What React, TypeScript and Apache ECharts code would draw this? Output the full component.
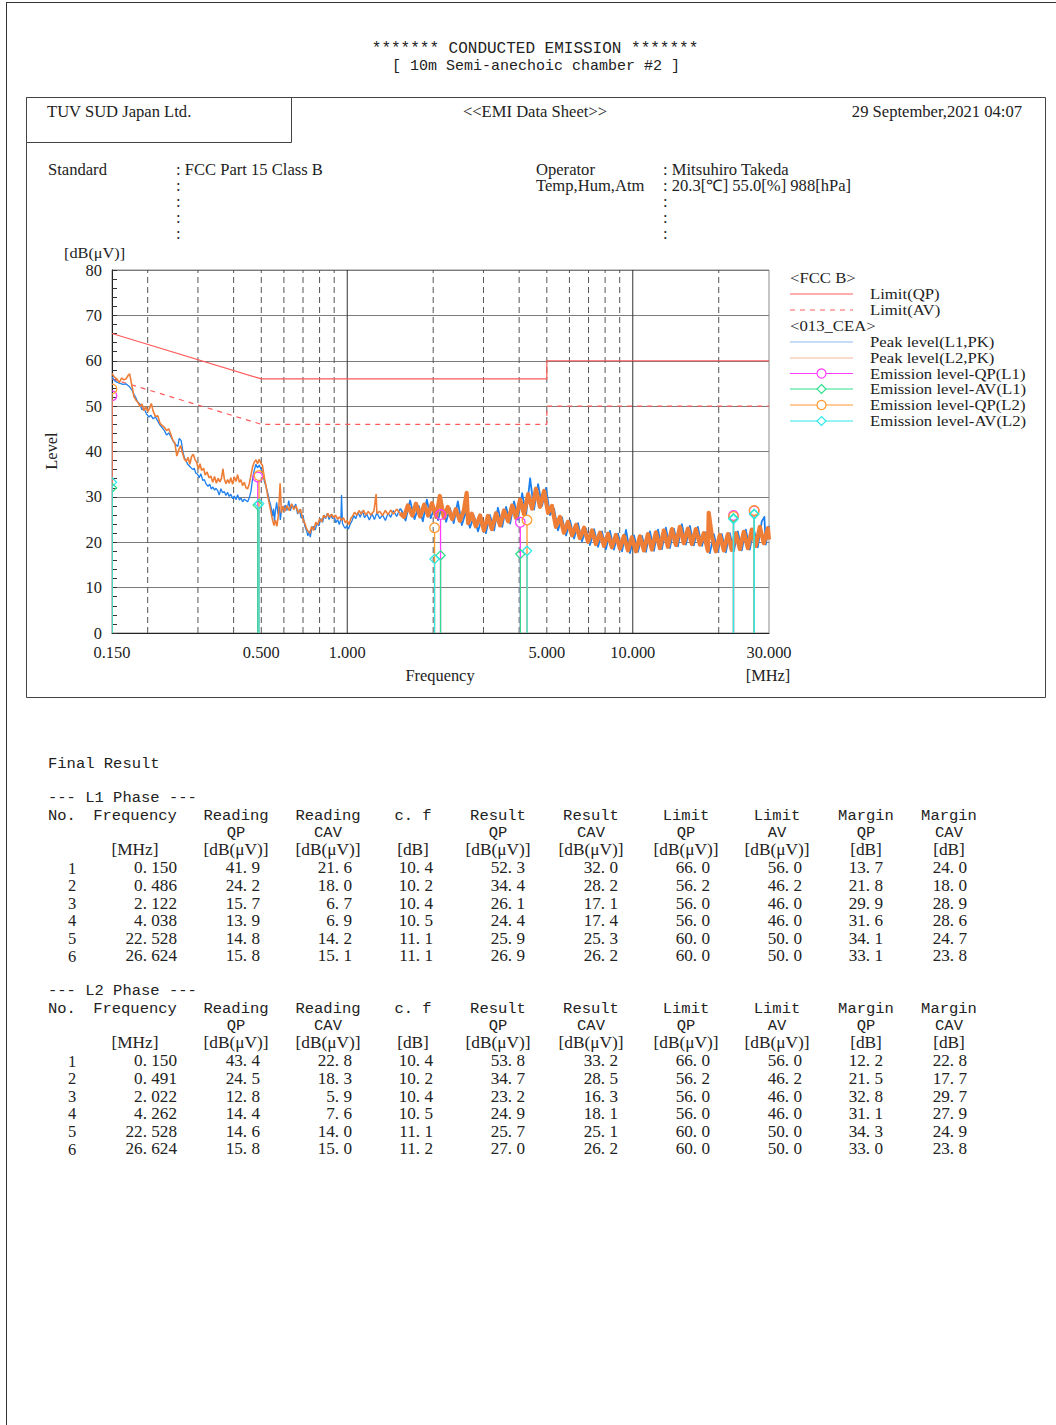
import React, { useEffect, useRef } from "react";
import * as echarts from "echarts";

// ---- axis layout values ----
const X_LABELS = [0.15, 0.5, 1, 5, 10, 30];
const X_DASHED = [0.2, 0.3, 0.4, 0.5, 0.6, 0.7, 0.8, 0.9, 2, 3, 4, 5, 6, 7, 8, 9, 20];
const X_SOLID = [1, 10];

// ---- FCC Part 15 Class B limits [MHz, dBuV] ----
const LIMIT_QP = [[0.15, 66], [0.5, 56], [5, 56], [5, 60], [30, 60]];
const LIMIT_AV = [[0.15, 56], [0.5, 46], [5, 46], [5, 50], [30, 50]];

// sweep is drawn heavier above this frequency, where the trace turns into a dense noise band
const BAND_START = 1.53;

// ---- peak sweep, L1 [MHz, dBuV] ----
const PEAK_L1 = [
  [0.150, 56.5], [0.153, 55.6], [0.156, 55.3], [0.160, 55.0], [0.164, 54.8], [0.168, 54.9], [0.172, 54.4],
  [0.176, 53.6], [0.179, 52.6], [0.182, 51.8], [0.184, 51.0], [0.188, 50.4], [0.191, 49.2], [0.194, 49.6],
  [0.198, 48.3], [0.202, 47.6], [0.205, 48.0], [0.209, 47.2], [0.213, 47.6], [0.217, 46.7], [0.221, 45.8],
  [0.225, 45.2], [0.229, 44.6], [0.233, 43.6], [0.237, 44.1], [0.241, 43.3], [0.246, 42.2], [0.250, 41.6],
  [0.255, 41.1], [0.258, 42.9], [0.262, 42.4], [0.266, 39.8], [0.269, 38.6], [0.273, 37.9], [0.276, 37.2],
  [0.280, 36.8], [0.284, 36.4], [0.288, 36.0], [0.291, 36.3], [0.295, 35.2], [0.299, 35.0], [0.303, 34.2],
  [0.307, 35.1], [0.312, 33.6], [0.316, 33.8], [0.320, 32.9], [0.325, 32.3], [0.330, 32.8], [0.334, 31.7],
  [0.338, 32.2], [0.343, 31.5], [0.347, 31.9], [0.352, 31.3], [0.356, 30.4], [0.361, 31.8], [0.366, 30.9],
  [0.371, 31.2], [0.376, 30.3], [0.381, 31.0], [0.386, 30.1], [0.391, 30.6], [0.397, 29.6], [0.402, 30.2],
  [0.408, 29.4], [0.413, 30.5], [0.419, 29.3], [0.424, 29.8], [0.430, 28.9], [0.436, 29.5], [0.442, 29.2],
  [0.448, 28.9], [0.454, 29.8], [0.460, 31.2], [0.466, 34.0], [0.472, 35.8], [0.479, 37.2], [0.485, 36.4],
  [0.492, 37.0], [0.498, 36.2], [0.505, 35.6], [0.512, 33.5], [0.519, 32.4], [0.526, 31.0], [0.533, 29.4],
  [0.540, 28.0], [0.548, 25.8], [0.552, 27.4], [0.556, 24.6], [0.560, 26.8], [0.566, 28.8], [0.572, 26.2],
  [0.578, 27.9], [0.583, 24.9], [0.590, 27.8], [0.598, 26.8], [0.606, 28.2], [0.615, 27.0], [0.624, 29.2],
  [0.632, 26.9], [0.641, 28.3], [0.650, 27.5], [0.660, 28.4], [0.670, 26.2], [0.680, 27.2], [0.690, 25.3],
  [0.700, 26.0], [0.710, 23.6], [0.720, 22.6], [0.728, 21.4], [0.736, 22.5], [0.742, 21.1], [0.750, 22.8],
  [0.760, 23.5], [0.772, 22.7], [0.784, 24.2], [0.796, 23.6], [0.808, 25.2], [0.820, 24.4], [0.830, 26.0],
  [0.840, 25.2], [0.852, 26.4], [0.864, 25.0], [0.876, 26.1], [0.888, 25.2], [0.900, 25.8], [0.912, 24.3],
  [0.925, 25.0], [0.938, 23.9], [0.950, 25.1], [0.955, 30.4], [0.962, 24.2], [0.975, 23.4], [0.985, 23.1],
  [0.996, 23.6], [1.010, 22.9], [1.023, 23.9], [1.040, 24.8], [1.055, 25.9], [1.070, 25.2], [1.090, 26.6],
  [1.110, 25.5], [1.130, 26.9], [1.150, 25.4], [1.170, 26.2], [1.195, 24.9], [1.220, 26.3], [1.245, 25.0],
  [1.270, 26.5], [1.300, 25.2], [1.330, 26.0], [1.360, 24.8], [1.390, 26.4], [1.420, 25.5], [1.450, 27.0],
  [1.490, 25.7], [1.530, 27.4],
  [1.55, 27.0], [1.60, 24.8], [1.66, 29.2], [1.72, 25.1], [1.78, 28.0], [1.84, 24.6], [1.90, 29.4],
  [1.96, 25.3], [2.02, 27.6], [2.08, 24.9], [2.15, 28.2], [2.22, 24.5], [2.29, 27.5], [2.36, 24.2],
  [2.44, 29.0], [2.52, 23.8], [2.60, 26.6], [2.69, 23.2], [2.78, 25.8], [2.87, 22.4], [2.96, 25.2],
  [3.06, 22.0], [3.16, 26.0], [3.27, 22.6], [3.37, 27.6], [3.49, 23.4], [3.60, 27.8], [3.72, 24.1],
  [3.84, 29.0], [3.96, 25.0], [4.10, 30.8], [4.23, 26.0], [4.37, 34.1], [4.51, 27.2], [4.66, 32.8],
  [4.81, 28.0], [4.97, 32.0], [5.13, 26.0], [5.30, 27.4], [5.47, 22.6], [5.65, 25.5], [5.84, 21.5],
  [6.03, 24.8], [6.23, 20.8], [6.43, 24.2], [6.64, 20.2], [6.86, 23.0], [7.08, 19.4], [7.32, 22.9],
  [7.56, 19.0], [7.80, 22.4], [8.06, 18.5], [8.32, 22.5], [8.59, 18.4], [8.88, 21.9], [9.17, 18.0],
  [9.47, 22.7], [9.78, 17.6], [10.10, 21.5], [10.43, 17.9], [10.77, 21.4], [11.12, 17.9], [11.49, 22.4],
  [11.86, 18.1], [12.25, 22.8], [12.65, 18.5], [13.06, 23.2], [13.49, 18.7], [13.93, 23.0], [14.39, 19.1],
  [14.86, 24.0], [15.35, 19.5], [15.85, 23.6], [16.37, 19.3], [16.90, 23.4], [17.46, 19.2], [18.03, 22.2],
  [18.62, 17.6], [19.23, 21.8], [19.86, 17.9], [20.51, 21.8], [21.18, 17.8], [21.87, 22.0], [22.59, 18.0],
  [23.33, 22.4], [24.09, 18.2], [24.88, 22.8], [25.69, 18.4], [26.53, 23.0], [27.40, 18.9], [28.30, 24.6],
  [28.90, 25.6], [29.22, 19.5], [30.00, 23.6],
];

// ---- peak sweep, L2 [MHz, dBuV] ----
const PEAK_L2 = [
  [0.150, 57.2], [0.153, 56.4], [0.156, 56.0], [0.159, 55.2], [0.162, 56.2], [0.165, 55.8], [0.168, 56.0],
  [0.171, 56.8], [0.173, 57.1], [0.175, 55.4], [0.177, 53.8], [0.179, 52.1], [0.182, 51.3], [0.185, 50.8],
  [0.188, 49.9], [0.191, 50.5], [0.194, 49.0], [0.197, 49.9], [0.200, 48.8], [0.203, 49.5], [0.206, 50.6],
  [0.209, 48.9], [0.213, 47.7], [0.217, 47.9], [0.221, 46.2], [0.225, 45.7], [0.229, 45.3], [0.233, 44.6],
  [0.237, 45.0], [0.241, 43.8], [0.245, 42.5], [0.249, 41.9], [0.253, 39.0], [0.257, 40.4], [0.261, 41.3],
  [0.265, 39.6], [0.269, 38.3], [0.273, 37.8], [0.277, 38.7], [0.281, 37.2], [0.285, 38.9], [0.289, 39.4],
  [0.293, 38.2], [0.297, 37.6], [0.301, 36.1], [0.305, 37.3], [0.309, 35.8], [0.314, 36.3], [0.318, 34.8],
  [0.323, 35.5], [0.328, 34.2], [0.333, 34.6], [0.338, 33.2], [0.343, 34.5], [0.348, 33.0], [0.353, 34.1],
  [0.358, 33.3], [0.363, 34.2], [0.367, 36.2], [0.371, 34.0], [0.376, 32.9], [0.381, 33.8], [0.386, 33.0],
  [0.391, 34.2], [0.397, 32.8], [0.402, 34.4], [0.408, 33.4], [0.413, 34.9], [0.419, 33.2], [0.424, 33.8],
  [0.430, 32.5], [0.436, 33.2], [0.442, 32.0], [0.448, 31.8], [0.454, 32.9], [0.460, 34.8], [0.466, 36.6],
  [0.472, 37.6], [0.479, 38.2], [0.485, 37.3], [0.492, 38.3], [0.498, 37.4], [0.505, 36.9], [0.512, 34.3],
  [0.519, 32.5], [0.526, 30.4], [0.533, 28.6], [0.540, 26.8], [0.548, 24.8], [0.554, 23.7], [0.560, 24.9],
  [0.567, 23.5], [0.574, 26.0], [0.582, 33.0], [0.588, 26.5], [0.596, 28.0], [0.604, 26.8], [0.615, 28.1],
  [0.626, 27.0], [0.638, 28.5], [0.650, 27.2], [0.662, 28.0], [0.674, 26.4], [0.686, 27.3], [0.698, 25.2],
  [0.710, 24.2], [0.720, 23.0], [0.730, 22.4], [0.740, 21.9], [0.750, 23.5], [0.762, 22.6], [0.776, 24.4],
  [0.788, 23.8], [0.800, 25.2], [0.814, 24.5], [0.826, 25.9], [0.840, 25.4], [0.854, 26.4], [0.868, 25.5],
  [0.882, 26.2], [0.896, 25.4], [0.910, 26.0], [0.925, 25.1], [0.940, 25.6], [0.955, 24.8], [0.970, 25.4],
  [0.985, 24.3], [1.000, 24.8], [1.015, 23.9], [1.030, 25.3], [1.045, 25.8], [1.060, 26.6], [1.080, 26.0],
  [1.100, 27.0], [1.120, 26.2], [1.140, 27.1], [1.160, 26.0], [1.185, 26.8], [1.210, 26.0], [1.240, 26.9],
  [1.262, 30.6], [1.270, 26.4], [1.300, 26.8], [1.330, 25.9], [1.360, 27.0], [1.390, 26.1], [1.420, 27.1],
  [1.450, 26.2], [1.490, 27.3], [1.530, 26.4],
  [1.58, 25.6], [1.63, 28.1], [1.69, 25.9], [1.74, 28.5], [1.80, 25.7], [1.86, 28.3], [1.92, 25.9],
  [1.98, 28.6], [2.05, 25.6], [2.11, 30.2], [2.18, 25.4], [2.25, 27.8], [2.33, 25.1], [2.40, 27.3],
  [2.48, 24.7], [2.56, 27.0], [2.62, 30.9], [2.65, 24.2], [2.73, 26.3], [2.82, 23.5], [2.92, 25.9],
  [3.01, 22.6], [3.11, 25.8], [3.21, 22.9], [3.32, 26.4], [3.43, 23.7], [3.54, 27.0], [3.66, 24.6],
  [3.78, 28.1], [3.90, 25.4], [4.03, 29.4], [4.16, 26.2], [4.30, 30.6], [4.44, 27.4], [4.58, 31.8],
  [4.73, 27.8], [4.89, 31.3], [5.05, 26.5], [5.21, 28.0], [5.38, 23.4], [5.56, 25.6], [5.74, 22.1],
  [5.93, 24.5], [6.13, 21.5], [6.33, 23.8], [6.53, 20.9], [6.75, 23.2], [6.97, 20.1], [7.20, 22.6],
  [7.43, 19.6], [7.68, 22.1], [7.93, 19.2], [8.19, 21.9], [8.45, 18.9], [8.73, 21.6], [9.02, 18.6],
  [9.31, 21.4], [9.62, 18.2], [9.93, 21.1], [10.26, 18.0], [10.59, 21.3], [10.94, 18.2], [11.30, 21.8],
  [11.67, 18.4], [12.05, 22.2], [12.45, 18.7], [12.85, 22.6], [13.27, 19.0], [13.71, 22.9], [14.16, 19.4],
  [14.62, 23.4], [15.10, 19.8], [15.60, 23.0], [16.11, 19.6], [16.63, 22.9], [17.18, 19.5], [17.74, 22.0],
  [18.32, 18.1], [18.45, 26.5], [18.92, 21.4], [19.54, 18.0], [20.18, 21.6], [20.85, 18.2], [21.53, 21.8],
  [22.23, 18.3], [22.96, 22.0], [23.72, 18.5], [24.49, 22.3], [25.30, 18.7], [26.12, 22.8], [26.98, 19.2],
  [27.86, 23.4], [28.78, 19.8], [29.72, 23.1], [30.00, 20.6],
];

// ---- final result, L1 ----
const L1_FREQ = [0.150, 0.486, 2.122, 4.038, 22.528, 26.624];
const L1_READ_QP = [41.9, 24.2, 15.7, 13.9, 14.8, 15.8];
const L1_READ_CAV = [21.6, 18.0, 6.7, 6.9, 14.2, 15.1];
const L1_CF = [10.4, 10.2, 10.4, 10.5, 11.1, 11.1];
const L1_RES_QP = [52.3, 34.4, 26.1, 24.4, 25.9, 26.9];
const L1_RES_CAV = [32.0, 28.2, 17.1, 17.4, 25.3, 26.2];
const L1_LIM_QP = [66.0, 56.2, 56.0, 56.0, 60.0, 60.0];
const L1_LIM_AV = [56.0, 46.2, 46.0, 46.0, 50.0, 50.0];
const L1_MAR_QP = [13.7, 21.8, 29.9, 31.6, 34.1, 33.1];
const L1_MAR_CAV = [24.0, 18.0, 28.9, 28.6, 24.7, 23.8];

// ---- final result, L2 ----
const L2_FREQ = [0.150, 0.491, 2.022, 4.262, 22.528, 26.624];
const L2_READ_QP = [43.4, 24.5, 12.8, 14.4, 14.6, 15.8];
const L2_READ_CAV = [22.8, 18.3, 5.9, 7.6, 14.0, 15.0];
const L2_CF = [10.4, 10.2, 10.4, 10.5, 11.1, 11.2];
const L2_RES_QP = [53.8, 34.7, 23.2, 24.9, 25.7, 27.0];
const L2_RES_CAV = [33.2, 28.5, 16.3, 18.1, 25.1, 26.2];
const L2_LIM_QP = [66.0, 56.2, 56.0, 56.0, 60.0, 60.0];
const L2_LIM_AV = [56.0, 46.2, 46.0, 46.0, 50.0, 50.0];
const L2_MAR_QP = [12.2, 21.5, 32.8, 31.1, 34.3, 33.0];
const L2_MAR_CAV = [22.8, 17.7, 29.7, 27.9, 24.9, 23.8];

const SERIF = '"Liberation Serif", "Times New Roman", serif';
const MONO = '"Liberation Mono", "Courier New", monospace';
const INK = "#222";

const C_BLUE = "#1c7fee";
const C_ORANGE = "#ee7d36";
const C_LIMIT = "#ff5a5a";
const C_QP1 = "#ff3cff";
const C_AV1 = "#30e08c";
const C_QP2 = "#ff9a30";
const C_AV2 = "#30e8e8";

type Cfg = { size?: number; family?: string; align?: string; color?: string; sx?: number };

function txt(x: number, y: number, text: string, cfg: Cfg = {}) {
  return {
    type: "text",
    x,
    y,
    scaleX: cfg.sx ?? 1,
    silent: true,
    style: {
      text,
      fill: cfg.color ?? INK,
      fontSize: cfg.size ?? 16,
      fontFamily: cfg.family ?? SERIF,
      align: cfg.align ?? "left",
      verticalAlign: "middle",
    },
  };
}

function line(x1: number, y1: number, x2: number, y2: number, stroke: string, width = 1, dash?: number[]) {
  return {
    type: "line",
    silent: true,
    shape: { x1, y1, x2, y2 },
    style: { stroke, lineWidth: width, lineDash: dash },
  };
}

// Result table (L1 / L2 phase), one text element per cell.
const fmt = (v: number, d: number) => v.toFixed(d).replace(".", ". ");

const COLS = [
  { title: "Frequency", sub: "", unit: "[MHz]", c: 135, r: 177 },
  { title: "Reading", sub: "QP", unit: "[dB(μV)]", c: 236, r: 260 },
  { title: "Reading", sub: "CAV", unit: "[dB(μV)]", c: 328, r: 352 },
  { title: "c. f", sub: "", unit: "[dB]", c: 413, r: 433 },
  { title: "Result", sub: "QP", unit: "[dB(μV)]", c: 498, r: 525 },
  { title: "Result", sub: "CAV", unit: "[dB(μV)]", c: 591, r: 618 },
  { title: "Limit", sub: "QP", unit: "[dB(μV)]", c: 686, r: 710 },
  { title: "Limit", sub: "AV", unit: "[dB(μV)]", c: 777, r: 802 },
  { title: "Margin", sub: "QP", unit: "[dB]", c: 866, r: 883 },
  { title: "Margin", sub: "CAV", unit: "[dB]", c: 949, r: 967 },
];

function tableBlock(top: number, phase: string, cols: number[][]) {
  const out: any[] = [];
  const mono = { family: MONO, size: 15.5 };
  out.push(txt(48, top, `--- ${phase} Phase ---`, mono));
  out.push(txt(48, top + 18, "No.", mono));
  COLS.forEach((col) => {
    out.push(txt(col.c, top + 18, col.title, { ...mono, align: "center" }));
    if (col.sub) out.push(txt(col.c, top + 35, col.sub, { ...mono, align: "center" }));
    out.push(txt(col.c, top + 52, col.unit, { family: SERIF, size: 16.5, align: "center", sx: 1.05 }));
  });
  for (let i = 0; i < 6; i++) {
    const y = top + 70 + i * 17.6;
    out.push(txt(72, y, String(i + 1), { size: 16.5, align: "center" }));
    COLS.forEach((col, k) => {
      const v = cols[k][i];
      out.push(txt(col.r, y, fmt(v, k === 0 ? 3 : 1), { size: 16.5, align: "right", sx: 1.04 }));
    });
  }
  return out;
}

function legendRow(y: number, label: string, color: string, opts: { dash?: number[]; marker?: "circle" | "diamond" } = {}) {
  const els: any[] = [line(790, y, 853, y, color, 1.2, opts.dash)];
  if (opts.marker === "circle") {
    els.push({ type: "circle", silent: true, shape: { cx: 821.5, cy: y, r: 4.5 }, style: { fill: "#fff", stroke: color, lineWidth: 1.2 } });
  } else if (opts.marker === "diamond") {
    els.push({
      type: "polygon",
      silent: true,
      shape: { points: [[821.5, y - 4.5], [826, y], [821.5, y + 4.5], [817, y]] },
      style: { fill: "#fff", stroke: color, lineWidth: 1.2 },
    });
  }
  els.push(txt(870, y, label, { size: 15.2, sx: 1.1 }));
  return els;
}

function emission(name: string, freqs: number[], values: number[], color: string, shape: "circle" | "diamond", z: number) {
  return {
    type: "custom",
    name,
    z,
    clip: true,
    silent: true,
    data: freqs.map((f, i) => [f, values[i]]),
    encode: { x: 0, y: 1 },
    renderItem: (_p: any, api: any) => {
      const [cx, cy] = api.coord([api.value(0), api.value(1)]);
      const [, by] = api.coord([api.value(0), 0]);
      const r = shape === "circle" ? 4.8 : 4.6;
      const st = { fill: "none", stroke: color, lineWidth: 1.3 };
      const mark =
        shape === "circle"
          ? { type: "circle", shape: { cx, cy, r }, style: st }
          : { type: "polygon", shape: { points: [[cx, cy - r], [cx + r, cy], [cx, cy + r], [cx - r, cy]] }, style: st };
      return {
        type: "group",
        children: [{ type: "line", shape: { x1: cx, y1: cy + r, x2: cx, y2: by }, style: { stroke: color, lineWidth: 1.3 } }, mark],
      };
    },
  };
}

function sweep(name: string, data: number[][], color: string, z: number, thin: number, thick: number) {
  const low = data.filter((p) => p[0] <= BAND_START);
  const high = data.filter((p) => p[0] >= BAND_START);
  const base = { type: "line", name, symbol: "none", z };
  return [
    { ...base, data: low, lineStyle: { color, width: thin } },
    { ...base, data: high, lineStyle: { color, width: thick, join: "round" } },
  ];
}

function buildOption() {
  const hdr = { size: 15.8, sx: 1.05 };
  const graphic: any[] = [
    // sheet borders
    line(6.5, 2, 6.5, 1425, "#333", 1),
    line(6, 2.5, 1056, 2.5, "#333", 1),
    { type: "rect", silent: true, shape: { x: 26.5, y: 97.5, width: 1019, height: 600 }, style: { fill: "none", stroke: "#444", lineWidth: 1 } },
    { type: "rect", silent: true, shape: { x: 26.5, y: 97.5, width: 265, height: 45 }, style: { fill: "none", stroke: "#444", lineWidth: 1 } },
    // title
    txt(535, 49, "******* CONDUCTED EMISSION *******", { family: MONO, size: 16, align: "center" }),
    txt(536, 66, "[ 10m Semi-anechoic chamber #2 ]", { family: MONO, size: 15, align: "center" }),
    // sheet header
    txt(47, 112, "TUV SUD Japan Ltd.", hdr),
    txt(535, 112, "<<EMI Data Sheet>>", { ...hdr, align: "center" }),
    txt(1022, 112, "29 September,2021 04:07", { ...hdr, align: "right" }),
    txt(48, 170, "Standard", hdr),
    txt(176, 170, ": FCC Part 15 Class B", hdr),
    txt(536, 170, "Operator", hdr),
    txt(536, 186, "Temp,Hum,Atm", hdr),
    txt(663, 170, ": Mitsuhiro Takeda", hdr),
    txt(663, 186, ": 20.3[℃] 55.0[%] 988[hPa]", hdr),
    ...[186, 202, 218, 234].map((y) => txt(176, y, ":", hdr)),
    ...[202, 218, 234].map((y) => txt(663, y, ":", hdr)),
    // axis titles
    txt(64, 253, "[dB(μV)]", { size: 15.5, sx: 1.05 }),
    { ...txt(51, 451, "Level", { size: 16.4, align: "center" }), rotation: Math.PI / 2 },
    txt(440, 675, "Frequency", { size: 16.4, align: "center" }),
    txt(768, 675, "[MHz]", { size: 16.4, align: "center" }),
    // legend
    txt(790, 278, "<FCC B>", { size: 15.2, sx: 1.1 }),
    ...legendRow(294, "Limit(QP)", C_LIMIT),
    ...legendRow(310, "Limit(AV)", C_LIMIT, { dash: [5, 5] }),
    txt(790, 326, "<013_CEA>", { size: 15.2, sx: 1.1 }),
    ...legendRow(342, "Peak level(L1,PK)", "#8cbcf2"),
    ...legendRow(358, "Peak level(L2,PK)", "#f6b898"),
    ...legendRow(373.5, "Emission level-QP(L1)", C_QP1, { marker: "circle" }),
    ...legendRow(389, "Emission level-AV(L1)", C_AV1, { marker: "diamond" }),
    ...legendRow(405, "Emission level-QP(L2)", C_QP2, { marker: "circle" }),
    ...legendRow(421, "Emission level-AV(L2)", C_AV2, { marker: "diamond" }),
    // final result table
    txt(48, 764, "Final Result", { family: MONO, size: 15.5 }),
    ...tableBlock(798, "L1", [L1_FREQ, L1_READ_QP, L1_READ_CAV, L1_CF, L1_RES_QP, L1_RES_CAV, L1_LIM_QP, L1_LIM_AV, L1_MAR_QP, L1_MAR_CAV]),
    ...tableBlock(991, "L2", [L2_FREQ, L2_READ_QP, L2_READ_CAV, L2_CF, L2_RES_QP, L2_RES_CAV, L2_LIM_QP, L2_LIM_AV, L2_MAR_QP, L2_MAR_CAV]),
  ];

  const vGrid = (freqs: number[], color: string, dash: number[] | undefined, z: number) => ({
    type: "custom",
    z,
    silent: true,
    data: freqs.map((f) => [f, 0]),
    encode: { x: 0, y: 1 },
    renderItem: (_p: any, api: any) => {
      const b = api.coord([api.value(0), 0]);
      const t = api.coord([api.value(0), 80]);
      return { type: "line", shape: { x1: b[0], y1: b[1], x2: t[0], y2: t[1] }, style: { stroke: color, lineWidth: 1, lineDash: dash } };
    },
  });

  return {
    animation: false,
    backgroundColor: "#fff",
    grid: { left: 112, top: 270, width: 657, height: 363, show: true, borderColor: "#8a8a8a", borderWidth: 1 },
    xAxis: {
      type: "log",
      logBase: 10,
      min: 0.15,
      max: 30,
      axisLine: { show: true, lineStyle: { color: "#222" } },
      axisTick: { show: false },
      axisLabel: { show: false },
      splitLine: { show: false },
      minorSplitLine: { show: false },
    },
    yAxis: {
      type: "value",
      min: 0,
      max: 80,
      interval: 10,
      axisLine: { show: true, lineStyle: { color: "#222" } },
      axisTick: { show: true, inside: true, length: 5, lineStyle: { color: "#333" } },
      minorTick: { show: true, splitNumber: 5, length: 5, lineStyle: { color: "#333" } },
      splitLine: { show: true, lineStyle: { color: "#7c7c7c", width: 1 } },
      axisLabel: { color: INK, fontFamily: SERIF, fontSize: 16.4, margin: 10 },
    },
    graphic,
    series: [
      vGrid(X_DASHED, "#555", [6, 4], 1),
      vGrid(X_SOLID, "#333", undefined, 1),
      {
        type: "custom",
        silent: true,
        data: X_LABELS.map((f) => [f, 0]),
        encode: { x: 0, y: 1 },
        renderItem: (_p: any, api: any) => {
          const p = api.coord([api.value(0), 0]);
          return {
            type: "text",
            x: p[0],
            y: p[1] + 19,
            style: { text: api.value(0).toFixed(3), fill: INK, fontSize: 16.4, fontFamily: SERIF, align: "center", verticalAlign: "middle" },
          };
        },
      },
      { type: "line", name: "Limit(QP)", data: LIMIT_QP, symbol: "none", z: 3, lineStyle: { color: C_LIMIT, width: 1.2 } },
      { type: "line", name: "Limit(AV)", data: LIMIT_AV, symbol: "none", z: 3, lineStyle: { color: C_LIMIT, width: 1.2, type: [5, 5] } },
      ...sweep("Peak level(L1,PK)", PEAK_L1, C_BLUE, 4, 1.3, 1.8),
      ...sweep("Peak level(L2,PK)", PEAK_L2, C_ORANGE, 5, 1.6, 4.2),
      emission("Emission level-QP(L1)", L1_FREQ, L1_RES_QP, C_QP1, "circle", 6),
      emission("Emission level-QP(L2)", L2_FREQ, L2_RES_QP, C_QP2, "circle", 6),
      emission("Emission level-AV(L1)", L1_FREQ, L1_RES_CAV, C_AV1, "diamond", 7),
      emission("Emission level-AV(L2)", L2_FREQ, L2_RES_CAV, C_AV2, "diamond", 7),
    ],
  };
}

export default function App() {
  const ref = useRef<HTMLDivElement>(null);
  useEffect(() => {
    if (!ref.current) return;
    const chart = echarts.init(ref.current, null, { renderer: "svg" });
    chart.setOption(buildOption() as any);
    return () => chart.dispose();
  }, []);
  return <div ref={ref} style={{ position: "absolute", left: 0, top: 0, width: 1056, height: 1425, background: "#fff" }} />;
}
